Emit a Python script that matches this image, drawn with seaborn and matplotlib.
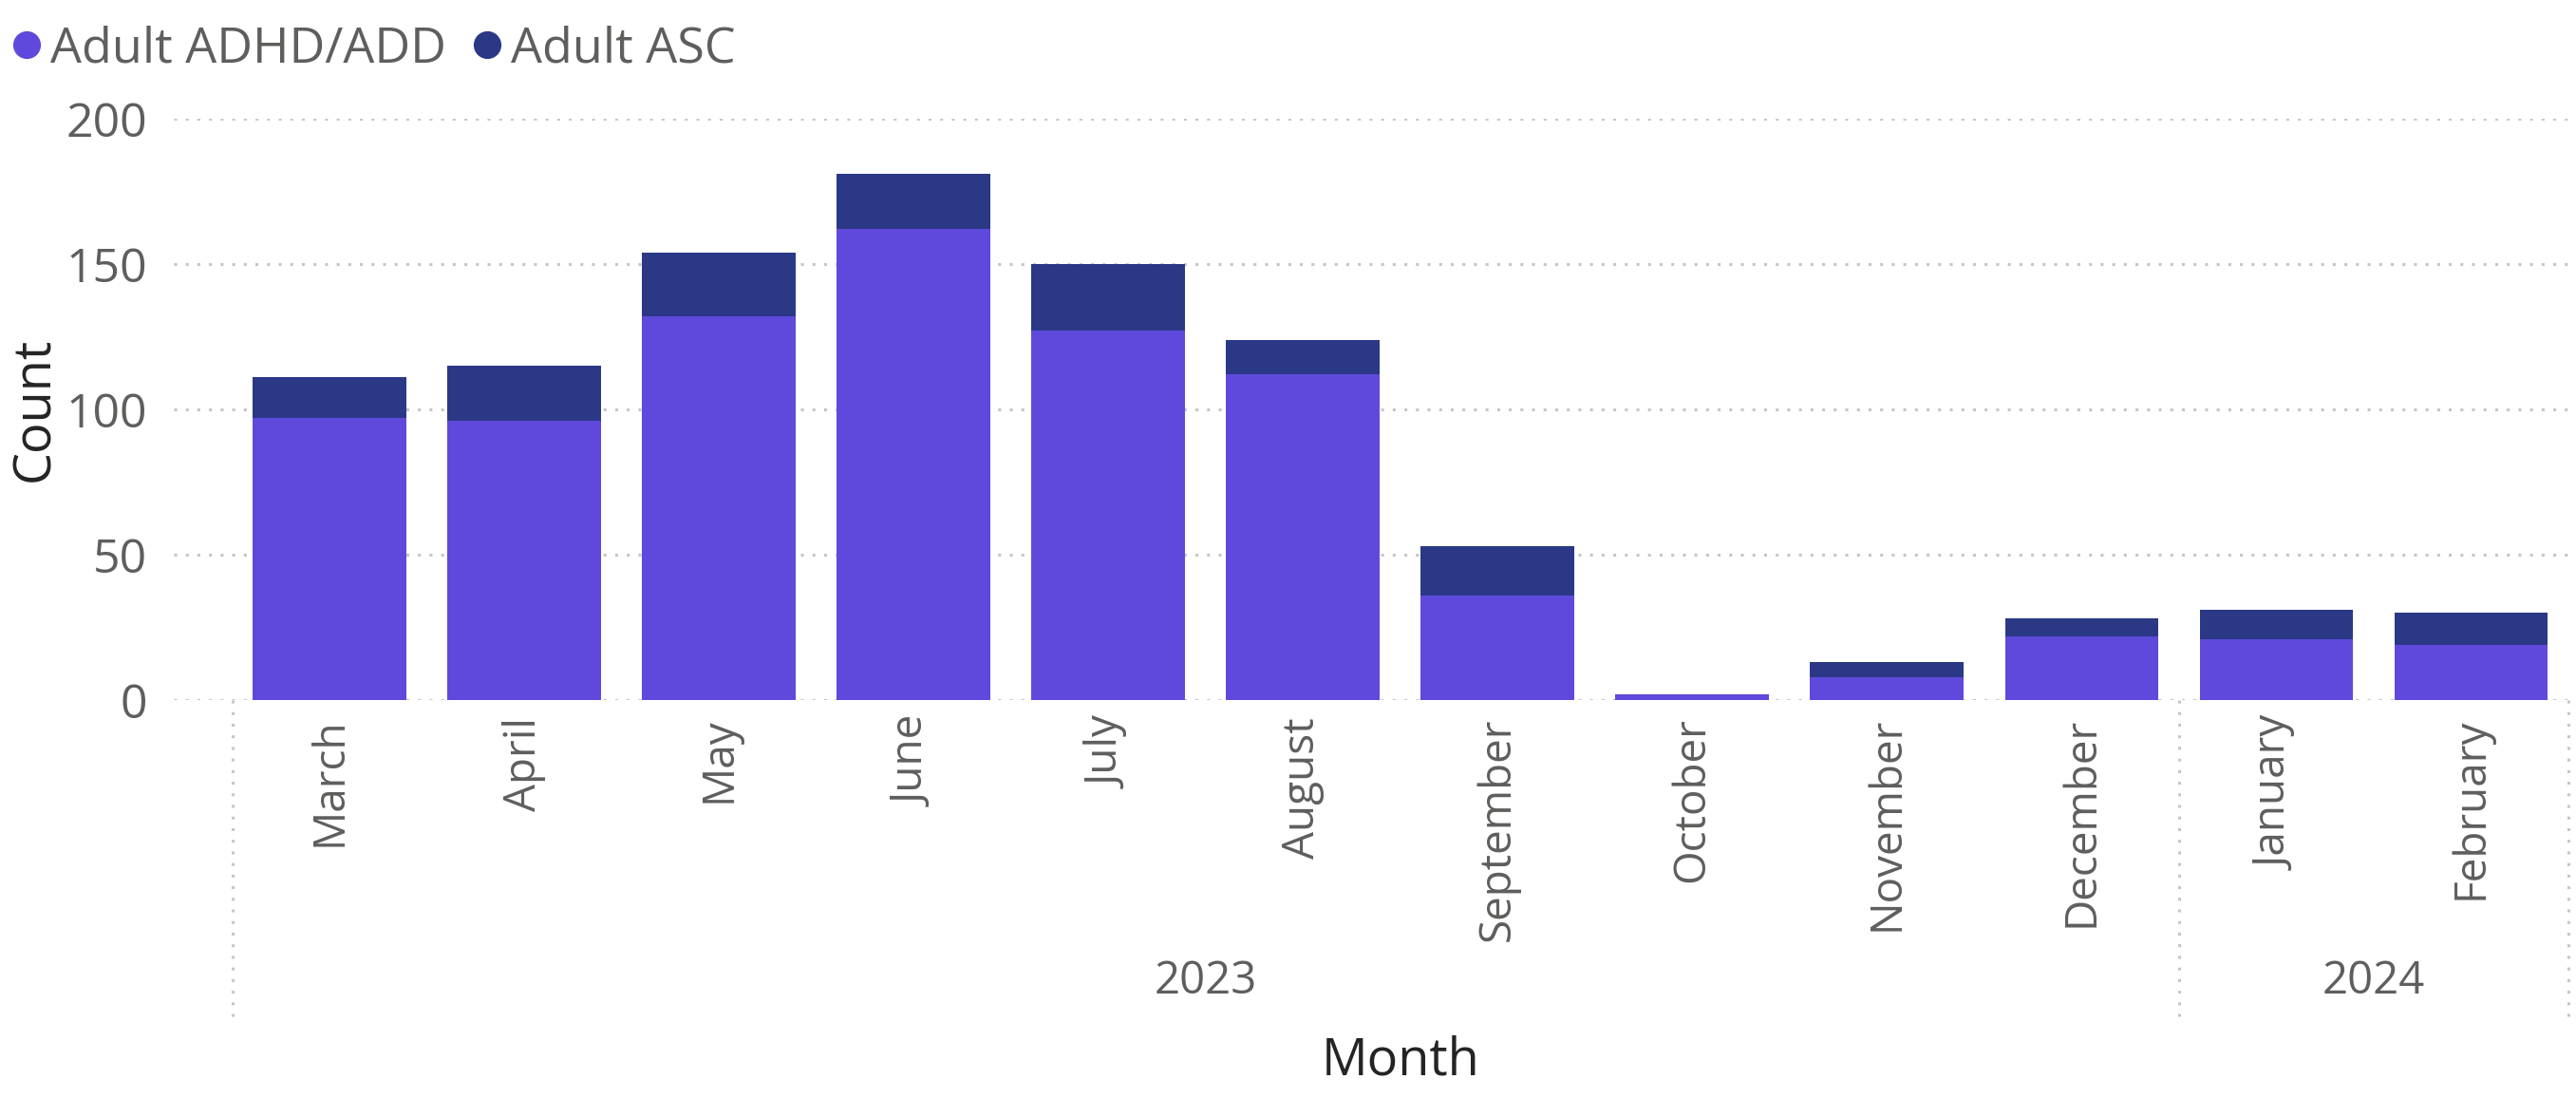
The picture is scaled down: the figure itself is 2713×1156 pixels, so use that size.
import numpy as np
import pandas as pd
import seaborn as sns
import matplotlib.pyplot as plt
from matplotlib.lines import Line2D
from matplotlib.transforms import blended_transform_factory

# data
months = ["March", "April", "May", "June", "July", "August", "September",
          "October", "November", "December", "January", "February"]
years = ["2023"] * 10 + ["2024"] * 2
adhd = [97, 96, 132, 162, 127, 112, 36, 2, 8, 22, 21, 19]
asc = [14, 19, 22, 19, 23, 12, 17, 0, 5, 6, 10, 11]

PURPLE = "#5F49DC"
NAVY = "#2A3886"
TICK = "#605E5C"
TITLE = "#252423"
GRID = "#C8C6C4"

sns.set_theme(style="white")
plt.rcParams['font.family'] = ['Open Sans', 'DejaVu Sans']

df = pd.DataFrame({"Month": months, "Year": years, "ADHD": adhd, "ASC": asc})
df["Total"] = df.ADHD + df.ASC

W, H = 2713, 1156
fig = plt.figure(figsize=(W / 100, H / 100), dpi=100)
ax = fig.add_axes([183 / W, 1 - 737 / H, 2530 / W, 612 / H])

# stacked bars: total underneath, ADHD on top of it
sns.barplot(data=df, x="Month", y="Total", color=NAVY, width=0.79,
            saturation=1, linewidth=0, ax=ax, zorder=2)
sns.barplot(data=df, x="Month", y="ADHD", color=PURPLE, width=0.79,
            saturation=1, linewidth=0, ax=ax, zorder=3)

ax.set_xlim(-0.802, 11.539)
ax.set_ylim(0, 200)
ax.set_yticks([0, 50, 100, 150, 200])
ax.yaxis.grid(True, color=GRID, linestyle=(0, (1, 3)), linewidth=2.2)
ax.set_axisbelow(True)
for s in ax.spines.values():
    s.set_visible(False)

ax.tick_params(axis="y", length=0, pad=20, labelsize=36, labelcolor=TICK)
ax.tick_params(axis="x", length=0, pad=13, labelsize=33, labelcolor=TICK,
               labelrotation=90)
ax.set_xlabel("")
ax.set_ylabel("")

# y title
fig.text(37 / W, 1 - 431 / H, "Count", rotation=90, ha="center", va="center",
         fontsize=39, color=TITLE)

# year groups under the month labels
tr = blended_transform_factory(ax.transData, fig.transFigure)
y0, y1 = 1 - 737 / H, 1 - 1070 / H
for xb in [-0.5, 9.5, 11.5]:
    fig.add_artist(Line2D([xb, xb], [y0, y1], transform=tr, color=GRID,
                          linestyle=(0, (1, 3)), linewidth=2.2))
for yr, grp in df.groupby("Year"):
    idx = grp.index
    xc = (idx.min() + idx.max()) / 2
    fig.text(xc, 1 - 1033 / H, yr, transform=tr, ha="center", va="center",
             fontsize=34, color=TICK)

fig.text(5.5, 1 - 1117 / H, "Month", transform=tr, ha="center", va="center",
         fontsize=39, color=TITLE)

# legend top-left
handles = [Line2D([], [], marker="o", linestyle="", markersize=20,
                  markerfacecolor=PURPLE, markeredgecolor=PURPLE),
           Line2D([], [], marker="o", linestyle="", markersize=20,
                  markerfacecolor=NAVY, markeredgecolor=NAVY)]
fig.legend(handles, ["Adult ADHD/ADD", "Adult ASC"], loc="center left",
           bbox_to_anchor=(14 / W, 1 - 52 / H), ncol=2, frameon=False,
           fontsize=37.5, labelcolor=TICK, handlelength=0.55, handletextpad=0.2,
           columnspacing=0.55, borderaxespad=0, borderpad=0)

fig.savefig("out.png", dpi=100)
